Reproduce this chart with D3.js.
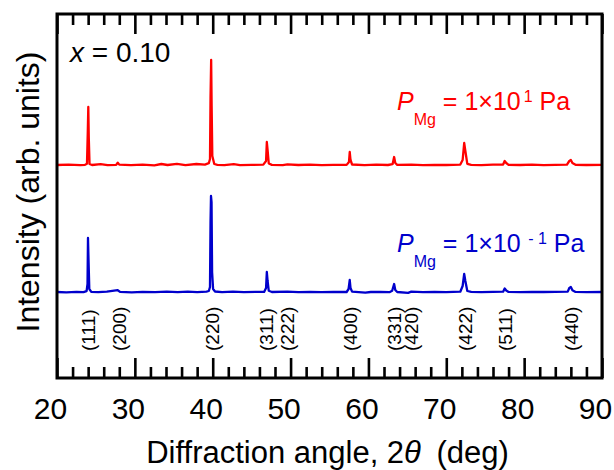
<!DOCTYPE html>
<html>
<head>
<meta charset="utf-8">
<script src="https://cdn.jsdelivr.net/npm/d3@7"></script>
<style>
  body { margin: 0; background: #fff; }
  text { font-family: "Liberation Sans", Arial, sans-serif; }
</style>
</head>
<body>
<div id="chart_container"></div>
<script>
// data: [2theta (deg), intensity (counts, baseline ~100)]
const redPattern = [
    [20, 100], [21.5, 104], [23, 98], [23.6, 102], [23.85, 112], [23.95, 420], [24.02, 680], [24.08, 380],
    [24.18, 110], [24.5, 100], [25.6, 108], [26.5, 99], [27.6, 102], [27.8, 124], [28.0, 104], [29.5, 98],
    [31, 103], [32.5, 97], [33.4, 110], [34.2, 100], [35.4, 112], [36.5, 99], [37.9, 110], [39.0, 104],
    [39.5, 118], [39.65, 160], [39.72, 780], [39.8, 1150], [39.86, 700], [39.95, 190], [40.2, 110], [40.6, 102],
    [41.5, 99], [42.7, 108], [43.5, 99], [45, 101], [46.5, 104], [46.85, 140], [46.95, 330], [47.05, 250],
    [47.2, 115], [47.6, 101], [49, 99], [49.6, 106], [51, 100], [52.5, 103], [54, 98], [55.5, 102],
    [57.2, 101], [57.5, 130], [57.6, 230], [57.7, 150], [57.9, 105], [59.5, 99], [61, 103], [62.5, 100],
    [63.1, 108], [63.3, 180], [63.45, 120], [63.7, 102], [65.5, 104], [67, 99], [68.5, 102], [70, 100],
    [71.8, 104], [72.1, 150], [72.3, 320], [72.45, 240], [72.7, 112], [73.2, 102], [74.5, 99], [76, 103],
    [77.3, 105], [77.5, 140], [77.7, 120], [78, 102], [79.5, 100], [81, 103], [82.5, 99], [84, 102],
    [85.5, 104], [85.8, 140], [86.0, 150], [86.2, 120], [86.6, 102], [88, 100], [90, 101]
];

const bluePattern = [
    [20, 100], [21.2, 97], [22.5, 102], [23.4, 98], [23.8, 108], [23.92, 180], [23.98, 640], [24.05, 420],
    [24.15, 130], [24.4, 102], [25.3, 98], [26.4, 103], [27.8, 118], [28.1, 101], [29.6, 97], [31, 102],
    [32.6, 99], [34.1, 104], [35.5, 98], [36.8, 103], [38.0, 99], [39.2, 104], [39.5, 110], [39.65, 150],
    [39.72, 800], [39.78, 1060], [39.85, 1000], [39.92, 300], [40.05, 130], [40.3, 105], [41.2, 99], [42.6, 104],
    [44, 98], [45.5, 102], [46.6, 101], [46.85, 140], [46.95, 300], [47.05, 210], [47.2, 112], [47.6, 100],
    [49.6, 104], [51, 99], [52.5, 101], [54, 98], [55.5, 102], [57.2, 100], [57.45, 130], [57.6, 220],
    [57.7, 140], [57.9, 104], [59.6, 94], [60.3, 100], [61.5, 102], [62.7, 98], [63.05, 112], [63.3, 180],
    [63.45, 120], [63.7, 100], [65.1, 92], [65.5, 103], [67, 99], [68.5, 102], [70, 99], [71.8, 103],
    [72.1, 160], [72.3, 280], [72.45, 210], [72.7, 110], [73.2, 101], [74.5, 99], [76, 102], [77.3, 103],
    [77.5, 135], [77.7, 115], [78, 101], [79.5, 98], [81, 102], [82.5, 100], [84, 101], [85.6, 104],
    [85.8, 140], [86.0, 150], [86.2, 118], [86.6, 101], [88, 99], [90, 100]
];

// vertical shift of the upper pattern (counts)
const redOffset = 1270;

// peak indexing labels and where they sit (2theta)
const hklNames = ["(111)", "(200)", "(220)", "(311)", "(222)", "(400)", "(331)", "(420)", "(422)", "(511)", "(440)"];
const hklAngles = [24.0, 28.0, 39.9, 46.9, 49.5, 57.7, 63.3, 65.5, 72.4, 77.6, 86.0];

// axis ticks
const majorTicks = [20, 30, 40, 50, 60, 70, 80, 90];
const minorTicks = d3.range(20, 91, 2).filter(d => d % 10 !== 0);

const w = 614;
const h = 470;
const plot = {left: 57, right: 602, top: 14, bottom: 378};
const red = "#ff0000";
const blue = "#0000cc";

// create the svg
const svg = d3.select("#chart_container").append("svg")
    .attr("width", w)
    .attr("height", h);

// scales
const xScale = d3.scaleLinear()
    .domain([20, 90])
    .range([plot.left, plot.right]);

const yScale = d3.scaleLinear()
    .domain([-760, 2880])
    .range([plot.bottom, plot.top]);

// clip for the traces
svg.append("clipPath").attr("id", "clip")
    .append("rect")
    .attr("x", plot.left)
    .attr("y", plot.top)
    .attr("width", plot.right - plot.left)
    .attr("height", plot.bottom - plot.top);

const line = d3.line()
    .x(d => xScale(d[0]))
    .y(d => yScale(d[1]));

svg.append("path")
    .datum(bluePattern)
    .attr("d", line)
    .attr("clip-path", "url(#clip)")
    .attr("fill", "none")
    .attr("stroke", blue)
    .attr("stroke-width", 2.3)
    .attr("stroke-linejoin", "round");

svg.append("path")
    .datum(redPattern.map(d => [d[0], d[1] + redOffset]))
    .attr("d", line)
    .attr("clip-path", "url(#clip)")
    .attr("fill", "none")
    .attr("stroke", red)
    .attr("stroke-width", 2.3)
    .attr("stroke-linejoin", "round");

// axes: inward ticks on bottom and top
function styleAxis(g) {
    g.select(".domain").remove();
    g.selectAll(".tick line").attr("stroke", "#000").attr("stroke-width", 2.6);
}

svg.append("g")
    .attr("transform", "translate(0," + plot.bottom + ")")
    .call(d3.axisBottom(xScale).tickValues(minorTicks).tickSize(-11).tickFormat(""))
    .call(styleAxis);

svg.append("g")
    .attr("transform", "translate(0," + plot.bottom + ")")
    .call(d3.axisBottom(xScale).tickValues(majorTicks).tickSize(-20).tickPadding(20).tickFormat(d3.format("d")))
    .call(styleAxis)
    .call(g => g.selectAll(".tick text")
        .attr("dx", -7)
        .attr("fill", "#000")
        .style("font-family", "'Liberation Sans', Arial, sans-serif")
        .style("font-size", "30px"));

svg.append("g")
    .attr("transform", "translate(0," + plot.top + ")")
    .call(d3.axisTop(xScale).tickValues(minorTicks).tickSize(-11).tickFormat(""))
    .call(styleAxis);

svg.append("g")
    .attr("transform", "translate(0," + plot.top + ")")
    .call(d3.axisTop(xScale).tickValues(majorTicks).tickSize(-20).tickFormat(""))
    .call(styleAxis);

// frame
svg.append("rect")
    .attr("x", plot.left)
    .attr("y", plot.top)
    .attr("width", plot.right - plot.left)
    .attr("height", plot.bottom - plot.top)
    .attr("fill", "none")
    .attr("stroke", "#000")
    .attr("stroke-width", 3);

// hkl labels
svg.append("g").selectAll("text")
    .data(hklNames)
    .enter()
    .append("text")
    .attr("transform", (d, i) => "translate(" + xScale(hklAngles[i]) + ",351) rotate(-90)")
    .attr("dy", "0.36em")
    .style("font-size", "19px")
    .text(d => d);

// axis titles
const xTitle = svg.append("text")
    .attr("x", (plot.left + plot.right) / 2 - 2)
    .attr("y", 463)
    .attr("text-anchor", "middle")
    .attr("font-size", 31);
xTitle.append("tspan").text("Diffraction angle, 2");
xTitle.append("tspan").attr("font-style", "italic").text("\u03b8");
xTitle.append("tspan").text("\u2002(deg)");

svg.append("text")
    .attr("transform", "translate(39,192) rotate(-90)")
    .attr("text-anchor", "middle")
    .attr("font-size", 32)
    .text("Intensity (arb. units)");

// composition note
const xNote = svg.append("text")
    .attr("x", 70)
    .attr("y", 62)
    .attr("font-size", 28);
xNote.append("tspan").attr("font-style", "italic").text("x");
xNote.append("tspan").text(" = 0.10");

// pressure labels
function pressureLabel(y, color, exponent) {
    const t = svg.append("text")
        .attr("x", 397)
        .attr("y", y)
        .attr("font-size", 25)
        .attr("fill", color);
    t.append("tspan").attr("font-style", "italic").text("P");
    t.append("tspan").attr("font-size", 16).attr("dy", 15).text("Mg");
    t.append("tspan").attr("dy", -15).text(" = 1\u00d710");
    t.append("tspan").attr("font-size", 16).attr("dy", -8).attr("dx", 3).text(exponent);
    t.append("tspan").attr("dy", 8).text(" Pa");
}

pressureLabel(110, red, "1");
pressureLabel(252, blue, "\u00a0-\u00a01");
</script>
</body>
</html>
